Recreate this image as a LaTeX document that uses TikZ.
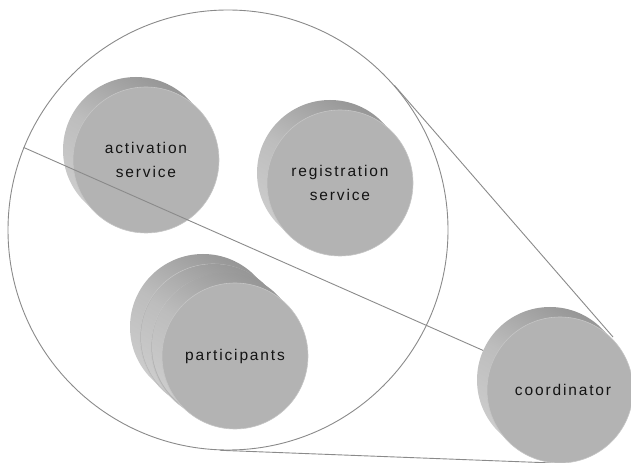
\documentclass[tikz,border=0pt]{standalone}
\usepackage{fontspec}
\setmainfont{Liberation Sans}[LetterSpace=12]
\definecolor{face}{HTML}{B3B3B3}
\definecolor{sidelight}{HTML}{CDCDCD}
\definecolor{sidemid}{HTML}{BDBDBD}
\definecolor{sidedark}{HTML}{979797}
\definecolor{rim}{HTML}{C6C6C6}
\definecolor{wirecol}{HTML}{8A8A8A}
\tikzset{
  discback/.style={circle, inner sep=0pt, minimum size=146bp, draw=none,
    top color=sidedark, bottom color=sidelight, middle color=sidemid, shading angle=-30},
  discface/.style={circle, inner sep=0pt, minimum size=146bp, fill=face,
    draw=rim, line width=0.6bp, align=center, text=black!92,
    font=\fontsize{15.5bp}{23.5bp}\selectfont},
  wire/.style={draw=wirecol, line width=0.9bp},
}
\newcommand\mydisc[4]{%
  \node[discback] (#1back) at (#2-10,#3-10) {};
  \node[discface] (#1) at (#2,#3) {#4};}
\begin{document}
\begin{tikzpicture}[x=1bp,y=-1bp]
\useasboundingbox (0,0) rectangle (631,463);
% big zoom circle
\node[circle, wire, inner sep=0pt, minimum size=440bp] (zoom) at (228,230) {};
\coordinate (ctop) at (613,337);
\coordinate (cbot) at (553,463);
\draw[wire] (zoom.41.1) -- (ctop);
\draw[wire] (zoom.-92.3) -- (cbot);
% services
\mydisc{act}{146}{160}{activation\\service}
\mydisc{reg}{340}{183}{registration\\service}
% participants stack
\mydisc{partc}{213}{337}{}
\mydisc{partb}{224}{347}{}
\mydisc{part}{235}{356}{participants}
% coordinator
\mydisc{coord}{560}{390}{\hspace*{6bp}coordinator}
% crossing line
\draw[wire] (zoom.158) -- (coordback);
\end{tikzpicture}
\end{document}
